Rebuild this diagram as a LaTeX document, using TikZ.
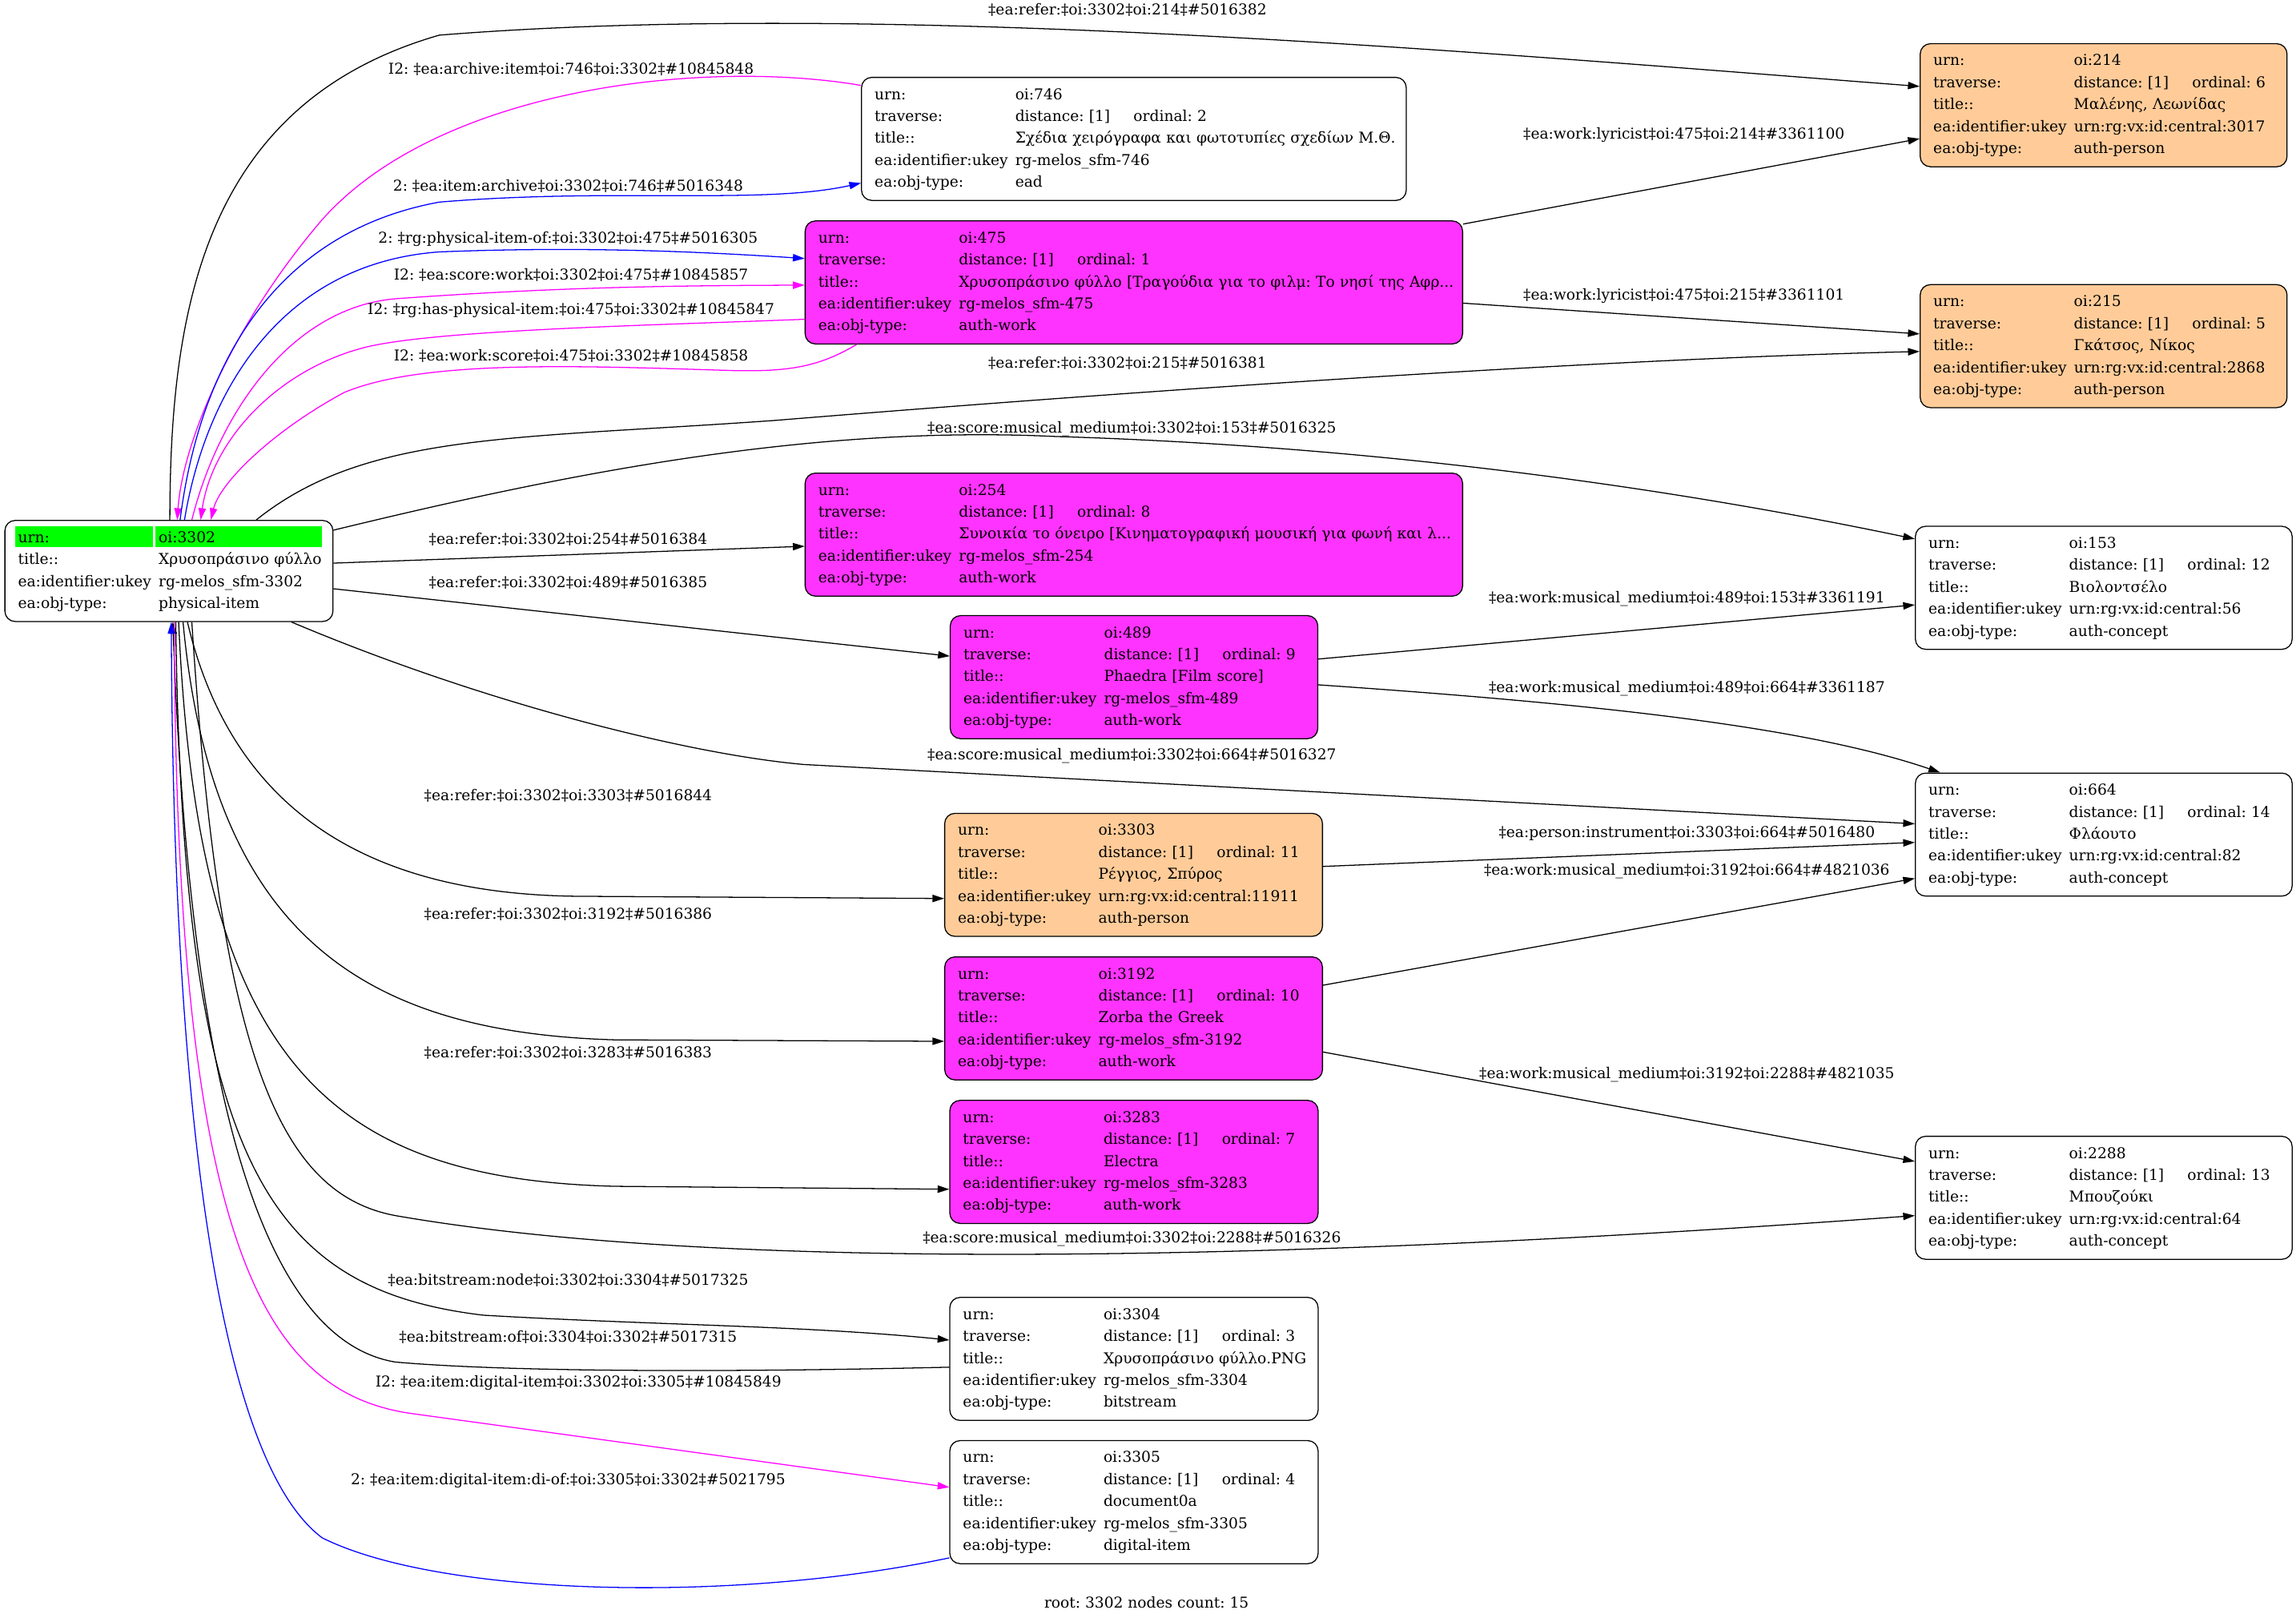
\documentclass[tikz,border=0pt]{standalone}
\usepackage{fontspec}
\setmainfont{DejaVu Serif}
\usetikzlibrary{arrows.meta,calc}
\definecolor{NodeMagenta}{RGB}{255,51,255}
\definecolor{NodePeach}{RGB}{255,204,153}
\definecolor{HeadGreen}{RGB}{0,255,0}
\definecolor{EdgeMagenta}{RGB}{255,0,255}
\definecolor{EdgeBlue}{RGB}{0,0,255}
\newcommand{\recfont}{\fontsize{10.2}{15}\selectfont\frenchspacing}
\newcommand{\rw}[2]{\mbox{\makebox[96pt][l]{#1}#2}\strut}
\newcommand{\trv}[1]{\rw{traverse:}{\makebox[80.8pt][l]{distance: [1]}ordinal: #1}}

\begin{document}
\begin{tikzpicture}[x=1pt,y=-1pt,font=\recfont,>={Triangle[length=8pt,width=5pt]},
  rec/.style={draw,line width=0.7pt,rounded corners=7pt,anchor=north west,inner xsep=9pt,inner ysep=4.5pt,align=left},
  work/.style={rec,fill=NodeMagenta},
  person/.style={rec,fill=NodePeach},
  lbl/.style={inner sep=0pt},
  link/.style={line width=0.7pt,->}]
\useasboundingbox (0,0) rectangle (1568,1107);
% header of the root record
\fill[HeadGreen] (10.4,359.3) rectangle (104.5,373.5);
\fill[HeadGreen] (106,359.3) rectangle (219.8,373.5);
% records
\node[rec,text width=206pt] (root) at (3,355) {\rw{urn:}{oi:3302}\\\rw{title::}{Χρυσοπράσινο φύλλο}\\\rw{ea:identifier:ukey}{rg-melos\_sfm-3302}\\\rw{ea:obj-type:}{physical-item}};
\node[rec,text width=354pt] (n746) at (588,52.5) {\rw{urn:}{oi:746}\\\trv{2}\\\rw{title::}{Σχέδια χειρόγραφα και φωτοτυπίες σχεδίων Μ.Θ.}\\\rw{ea:identifier:ukey}{rg-melos\_sfm-746}\\\rw{ea:obj-type:}{ead}};
\node[work,text width=431pt] (n475) at (549.5,150.5) {\rw{urn:}{oi:475}\\\trv{1}\\\rw{title::}{Χρυσοπράσινο φύλλο [Τραγούδια για το φιλμ: Το νησί της Αφρ...}\\\rw{ea:identifier:ukey}{rg-melos\_sfm-475}\\\rw{ea:obj-type:}{auth-work}};
\node[person,text width=232.5pt] (n214) at (1311,29.5) {\rw{urn:}{oi:214}\\\trv{6}\\\rw{title::}{Μαλένης, Λεωνίδας}\\\rw{ea:identifier:ukey}{urn:rg:vx:id:central:3017}\\\rw{ea:obj-type:}{auth-person}};
\node[person,text width=232.5pt] (n215) at (1311,194) {\rw{urn:}{oi:215}\\\trv{5}\\\rw{title::}{Γκάτσος, Νίκος}\\\rw{ea:identifier:ukey}{urn:rg:vx:id:central:2868}\\\rw{ea:obj-type:}{auth-person}};
\node[work,text width=431pt] (n254) at (549.5,322.7) {\rw{urn:}{oi:254}\\\trv{8}\\\rw{title::}{Συνοικία το όνειρο [Κινηματογραφική μουσική για φωνή και λ...}\\\rw{ea:identifier:ukey}{rg-melos\_sfm-254}\\\rw{ea:obj-type:}{auth-work}};
\node[work,text width=233pt] (n489) at (648.6,420) {\rw{urn:}{oi:489}\\\trv{9}\\\rw{title::}{Phaedra [Film score]}\\\rw{ea:identifier:ukey}{rg-melos\_sfm-489}\\\rw{ea:obj-type:}{auth-work}};
\node[rec,text width=239.3pt] (n153) at (1307.7,359) {\rw{urn:}{oi:153}\\\trv{12}\\\rw{title::}{Βιολοντσέλο}\\\rw{ea:identifier:ukey}{urn:rg:vx:id:central:56}\\\rw{ea:obj-type:}{auth-concept}};
\node[rec,text width=239.3pt] (n664) at (1307.7,527.5) {\rw{urn:}{oi:664}\\\trv{14}\\\rw{title::}{Φλάουτο}\\\rw{ea:identifier:ukey}{urn:rg:vx:id:central:82}\\\rw{ea:obj-type:}{auth-concept}};
\node[person,text width=240pt] (n3303) at (644.8,555) {\rw{urn:}{oi:3303}\\\trv{11}\\\rw{title::}{Ρέγγιος, Σπύρος}\\\rw{ea:identifier:ukey}{urn:rg:vx:id:central:11911}\\\rw{ea:obj-type:}{auth-person}};
\node[work,text width=240pt] (n3192) at (644.8,653) {\rw{urn:}{oi:3192}\\\trv{10}\\\rw{title::}{Zorba the Greek}\\\rw{ea:identifier:ukey}{rg-melos\_sfm-3192}\\\rw{ea:obj-type:}{auth-work}};
\node[rec,text width=239.3pt] (n2288) at (1307.7,775.5) {\rw{urn:}{oi:2288}\\\trv{13}\\\rw{title::}{Μπουζούκι}\\\rw{ea:identifier:ukey}{urn:rg:vx:id:central:64}\\\rw{ea:obj-type:}{auth-concept}};
\node[work,text width=233.5pt] (n3283) at (648.3,751) {\rw{urn:}{oi:3283}\\\trv{7}\\\rw{title::}{Electra}\\\rw{ea:identifier:ukey}{rg-melos\_sfm-3283}\\\rw{ea:obj-type:}{auth-work}};
\node[rec,text width=233.5pt] (n3304) at (648.3,885.5) {\rw{urn:}{oi:3304}\\\trv{3}\\\rw{title::}{Χρυσοπράσινο φύλλο.PNG}\\\rw{ea:identifier:ukey}{rg-melos\_sfm-3304}\\\rw{ea:obj-type:}{bitstream}};
\node[rec,text width=233.5pt] (n3305) at (648.3,983.3) {\rw{urn:}{oi:3305}\\\trv{4}\\\rw{title::}{document0a}\\\rw{ea:identifier:ukey}{rg-melos\_sfm-3305}\\\rw{ea:obj-type:}{digital-item}};
% links around the top of the root
\draw[link,EdgeMagenta] ($(n746.north west)+(0,5.8)$) .. controls (480,40) and (300,60) .. (220,150) .. controls (160,220) and (125,300) .. ($(root.north west)+(118,0)$);
\draw[link,EdgeBlue] ($(root.north west)+(120,0)$) .. controls (135,260) and (180,160) .. (300,138) .. controls (420,128) and (520,140) .. ($(n746.north west)+(0,72.5)$);
\draw[link,EdgeBlue] ($(root.north west)+(123,0)$) .. controls (140,270) and (190,180) .. (300,172) .. controls (400,168) and (480,172) .. ($(n475.north west)+(0,26)$);
\draw[link,EdgeMagenta] ($(root.north west)+(128,0)$) .. controls (150,280) and (200,210) .. (270,204) .. controls (380,196) and (460,195) .. ($(n475.north west)+(0,44.2)$);
\draw[link,EdgeMagenta] ($(n475.north west)+(0,67.5)$) .. controls (450,222) and (300,225) .. (250,237) .. controls (190,252) and (145,300) .. ($(root.north west)+(134,0)$);
\draw[link,EdgeMagenta] ($(n475.south west)+(35.5,0)$) .. controls (560,250) and (540,254) .. (500,253) .. controls (400,250) and (290,245) .. (235,268) .. controls (185,295) and (150,330) .. ($(root.north west)+(141,0)$);
\draw[link] ($(root.north west)+(113,0)$) .. controls (116,210) and (140,70) .. (300,24) .. controls (600,0) and (1000,35) .. ($(n214.north west)+(0,29.5)$);
\draw[link] ($(root.north west)+(172,0)$) .. controls (250,295) and (350,300) .. (530,287) .. controls (800,265) and (1100,245) .. ($(n215.north west)+(0,46)$);
\draw[link] ($(root.north east)+(0,7)$) .. controls (380,325) and (550,290) .. (720,298) .. controls (950,305) and (1150,335) .. ($(n153.north west)+(0,9)$);
\draw[link] ($(root.north east)+(0,29.5)$) -- ($(n254.north west)+(0,50.3)$);
\draw[link] ($(root.north east)+(0,47)$) -- ($(n489.north west)+(0,28)$);
\draw[link] ($(root.south west)+(196,0)$) .. controls (330,480) and (470,515) .. (549,522) -- ($(n664.north west)+(0,35)$);
% links between the records on the right
\draw[link] ($(n475.north east)+(0,2.5)$) -- ($(n214.north west)+(0,65.2)$);
\draw[link] ($(n475.north east)+(0,56.5)$) -- ($(n215.north west)+(0,34)$);
\draw[link] ($(n489.north east)+(0,30)$) -- ($(n153.north west)+(0,54)$);
\draw[link] ($(n489.north east)+(0,47.6)$) .. controls (1080,480) and (1230,495) .. ($(n664.north west)+(17.3,0)$);
\draw[link] ($(n3303.north east)+(0,36.6)$) -- ($(n664.north west)+(0,47.7)$);
\draw[link] ($(n3192.north east)+(0,19.7)$) -- ($(n664.north west)+(0,72.3)$);
\draw[link] ($(n3192.north east)+(0,65.3)$) -- ($(n2288.north west)+(0,17.5)$);
% links below the root
\draw[link] ($(root.south west)+(125,0)$) .. controls (160,560) and (260,612) .. (400,612) -- ($(n3303.north west)+(0,58.5)$);
\draw[link] ($(root.south west)+(122,0)$) .. controls (145,640) and (250,705) .. (420,710) -- ($(n3192.north west)+(0,58)$);
\draw[link] ($(root.south west)+(119,0)$) .. controls (135,720) and (220,805) .. (420,810) -- ($(n3283.north west)+(0,61)$);
\draw[link] ($(root.south west)+(128,0)$) .. controls (150,720) and (190,815) .. (270,830) .. controls (500,870) and (900,860) .. ($(n2288.north west)+(0,54.5)$);
\draw[link] ($(root.south west)+(117,0)$) .. controls (125,790) and (180,880) .. (330,898) .. controls (450,905) and (550,905) .. ($(n3304.north west)+(0,29.5)$);
\draw[link] ($(n3304.north west)+(0,48)$) .. controls (500,937) and (350,937) .. (270,930) .. controls (180,915) and (130,750) .. ($(root.south west)+(115,0)$);
\draw[link,EdgeMagenta] ($(root.south west)+(116,0)$) .. controls (120,850) and (180,950) .. (280,965) -- ($(n3305.north west)+(0,32.2)$);
\draw[link,EdgeBlue] ($(n3305.north west)+(0,80.4)$) .. controls (500,1095) and (300,1090) .. (220,1050) .. controls (140,990) and (118,700) .. ($(root.south west)+(114,0)$);
% link labels
\node[lbl] (t1) at (390,47) {I2: ‡ea:archive:item‡oi:746‡oi:3302‡\#10845848};
\node[lbl] (t2) at (388,127) {2: ‡ea:item:archive‡oi:3302‡oi:746‡\#5016348};
\node[lbl] (t3) at (388,163) {2: ‡rg:physical-item-of:‡oi:3302‡oi:475‡\#5016305};
\node[lbl] (t4) at (390,188) {I2: ‡ea:score:work‡oi:3302‡oi:475‡\#10845857};
\node[lbl] (t5) at (390,212) {I2: ‡rg:has-physical-item:‡oi:475‡oi:3302‡\#10845847};
\node[lbl] (t6) at (390,243) {I2: ‡ea:work:score‡oi:475‡oi:3302‡\#10845858};
\node[lbl] (t7) at (770,7) {‡ea:refer:‡oi:3302‡oi:214‡\#5016382};
\node[lbl] (t8) at (1150,92) {‡ea:work:lyricist‡oi:475‡oi:214‡\#3361100};
\node[lbl] (t9) at (1150,202) {‡ea:work:lyricist‡oi:475‡oi:215‡\#3361101};
\node[lbl] (t10) at (770,248) {‡ea:refer:‡oi:3302‡oi:215‡\#5016381};
\node[lbl] (t11) at (773,293) {‡ea:score:musical\_medium‡oi:3302‡oi:153‡\#5016325};
\node[lbl] (t12) at (388,368) {‡ea:refer:‡oi:3302‡oi:254‡\#5016384};
\node[lbl] (t13) at (388,398) {‡ea:refer:‡oi:3302‡oi:489‡\#5016385};
\node[lbl] (t14) at (1152,409) {‡ea:work:musical\_medium‡oi:489‡oi:153‡\#3361191};
\node[lbl] (t15) at (1152,470) {‡ea:work:musical\_medium‡oi:489‡oi:664‡\#3361187};
\node[lbl] (t16) at (773,516) {‡ea:score:musical\_medium‡oi:3302‡oi:664‡\#5016327};
\node[lbl] (t17) at (388,543) {‡ea:refer:‡oi:3302‡oi:3303‡\#5016844};
\node[lbl] (t18) at (1152,569) {‡ea:person:instrument‡oi:3303‡oi:664‡\#5016480};
\node[lbl] (t19) at (1152,595) {‡ea:work:musical\_medium‡oi:3192‡oi:664‡\#4821036};
\node[lbl] (t20) at (388,624) {‡ea:refer:‡oi:3302‡oi:3192‡\#5016386};
\node[lbl] (t21) at (388,719) {‡ea:refer:‡oi:3302‡oi:3283‡\#5016383};
\node[lbl] (t22) at (1152,734) {‡ea:work:musical\_medium‡oi:3192‡oi:2288‡\#4821035};
\node[lbl] (t23) at (773,846) {‡ea:score:musical\_medium‡oi:3302‡oi:2288‡\#5016326};
\node[lbl] (t24) at (388,874) {‡ea:bitstream:node‡oi:3302‡oi:3304‡\#5017325};
\node[lbl] (t25) at (388,913) {‡ea:bitstream:of‡oi:3304‡oi:3302‡\#5017315};
\node[lbl] (t26) at (395,944) {I2: ‡ea:item:digital-item‡oi:3302‡oi:3305‡\#10845849};
\node[lbl] (t27) at (388,1011) {2: ‡ea:item:digital-item:di-of:‡oi:3305‡oi:3302‡\#5021795};
\node[lbl] (footer) at (783,1094) {root: 3302 nodes count: 15};
\end{tikzpicture}
\end{document}
